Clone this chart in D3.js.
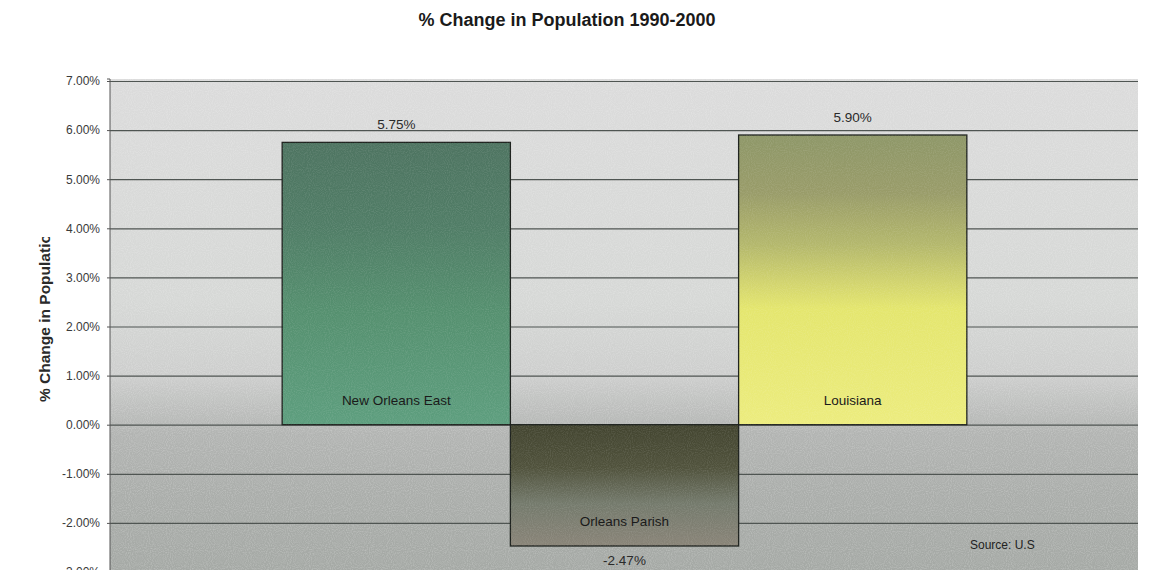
<!DOCTYPE html>
<html>
<head>
<meta charset="utf-8">
<script src="https://cdn.jsdelivr.net/npm/d3@7"></script>
<style>
  html, body { margin: 0; padding: 0; background: #fff; }
  svg { display: block; font-family: "Liberation Sans", Arial, sans-serif; }
</style>
</head>
<body>
<svg id="chart" width="1153" height="570"></svg>
<script>
// ---- data ----
const categories = ["New Orleans East", "Orleans Parish", "Louisiana"];
const values = [5.75, -2.47, 5.90];
const yTicks = [-3, -2, -1, 0, 1, 2, 3, 4, 5, 6, 7];
const titleText = "% Change in Population 1990-2000";
const yTitle = "% Change in Population";
const sourceText = "Source: U.S";

// ---- layout ----
const W = 1153, H = 570;
const plot = { left: 110, right: 1138, top: 79, bottom: 572 };

const svg = d3.select("#chart");
const defs = svg.append("defs");

const y = d3.scaleLinear().domain([-3, 7]).range([572, 81]);
const x = d3.scaleBand().domain(categories)
  .range([plot.left + 1, plot.right])
  .paddingInner(0).paddingOuter(0.75);

// gradients
function grad(id, stops) {
  const g = defs.append("linearGradient").attr("id", id)
    .attr("x1", 0).attr("y1", 0).attr("x2", 0).attr("y2", 1);
  stops.forEach(s => g.append("stop").attr("offset", s[0]).attr("stop-color", s[1]));
}
grad("bg", [[0, "#dbdbdb"], [0.45, "#d6d8d6"], [0.6, "#cdcecd"], [0.69, "#b8bab8"], [0.72, "#b2b4b2"], [0.85, "#aaadaa"], [1, "#a5a9a5"]]);
grad("g0", [[0, "#4e7461"], [0.3, "#507d66"], [0.6, "#55906f"], [1, "#5d9e7e"]]);
grad("g1", [[0, "#434530"], [0.35, "#50523c"], [0.65, "#747a6c"], [1, "#898478"]]);
grad("g2", [[0, "#8e9768"], [0.2, "#999c69"], [0.38, "#b4b86c"], [0.52, "#d4d66e"], [0.6, "#e4e66e"], [1, "#ecec7e"]]);
const fills = ["url(#g0)", "url(#g1)", "url(#g2)"];

// grain filter
const f = defs.append("filter").attr("id", "grain").attr("x", 0).attr("y", 0).attr("width", 1).attr("height", 1);
f.append("feTurbulence").attr("type", "fractalNoise").attr("baseFrequency", 0.95).attr("numOctaves", 1).attr("seed", 3).attr("result", "n");
f.append("feColorMatrix").attr("in", "n").attr("type", "matrix")
  .attr("values", "0 0 0 0 1  0 0 0 0 1  0 0 0 0 1  1.4 0 0 0 -0.55");
f.append("feComposite").attr("in2", "SourceGraphic").attr("operator", "in");

// title
svg.append("text").attr("x", 567).attr("y", 26).attr("text-anchor", "middle")
  .attr("font-size", 18).attr("font-weight", "bold").attr("fill", "#1a1a1a").text(titleText);

// plot background
svg.append("rect").attr("x", plot.left).attr("y", plot.top)
  .attr("width", plot.right - plot.left).attr("height", plot.bottom - plot.top)
  .attr("fill", "url(#bg)");
svg.append("rect").attr("x", plot.left).attr("y", plot.top)
  .attr("width", plot.right - plot.left).attr("height", plot.bottom - plot.top)
  .attr("fill", "#fff").attr("filter", "url(#grain)").attr("opacity", 0.35);

// gridlines
const grid = svg.append("g").attr("transform", `translate(${plot.left},0)`)
  .call(d3.axisLeft(y).tickValues(yTicks).tickSize(-(plot.right - plot.left)).tickFormat(""));
grid.select(".domain").remove();
grid.selectAll("line").attr("stroke", "#4f5552").attr("stroke-width", 1.2);

// bars
const bars = svg.append("g");
categories.forEach((c, i) => {
  const v = values[i];
  const y0 = y(Math.max(0, v)), y1 = y(Math.min(0, v));
  bars.append("rect").attr("x", x(c)).attr("y", y0)
    .attr("width", x.bandwidth()).attr("height", y1 - y0)
    .attr("fill", fills[i]).attr("stroke", "#1e221e").attr("stroke-width", 1.3);
  bars.append("rect").attr("x", x(c)).attr("y", y0)
    .attr("width", x.bandwidth()).attr("height", y1 - y0)
    .attr("fill", "#fff").attr("filter", "url(#grain)").attr("opacity", 0.18);
  // category label inside near bottom of bar
  svg.append("text").attr("x", x(c) + x.bandwidth() / 2).attr("y", y1 - 20)
    .attr("text-anchor", "middle").attr("font-size", 13.5).attr("fill", "#1a1a1a").text(c);
  // value label
  const vy = v >= 0 ? y0 - 13 : y1 + 19;
  svg.append("text").attr("x", x(c) + x.bandwidth() / 2).attr("y", vy)
    .attr("text-anchor", "middle").attr("font-size", 13.5).attr("fill", "#2a2a2a")
    .text(v.toFixed(2) + "%");
});

// y axis
const ax = svg.append("g").attr("transform", `translate(${plot.left},0)`)
  .call(d3.axisLeft(y).tickValues(yTicks).tickSize(3).tickPadding(7)
    .tickFormat(d => d.toFixed(2) + "%"));
ax.select(".domain").attr("stroke", "#555").attr("d", `M-3,${plot.top}H0V${plot.bottom}`);
ax.selectAll("line").attr("stroke", "#555");
ax.selectAll("text").attr("font-size", 12).attr("fill", "#3a3a3a")
  .attr("font-family", "'Liberation Sans', Arial, sans-serif");

// y axis title (clipped at the top as in the original)
defs.append("clipPath").attr("id", "ytclip").append("rect")
  .attr("x", 0).attr("y", 237).attr("width", 100).attr("height", 300);
svg.append("g").attr("clip-path", "url(#ytclip)")
  .append("text").attr("transform", "translate(50,402) rotate(-90)")
  .attr("text-anchor", "start").attr("font-size", 15.5).attr("font-weight", "bold")
  .attr("fill", "#2a2a2a").text(yTitle);

// source note
svg.append("text").attr("x", 970).attr("y", 549).attr("font-size", 12)
  .attr("fill", "#222").text(sourceText);
</script>
</body>
</html>
